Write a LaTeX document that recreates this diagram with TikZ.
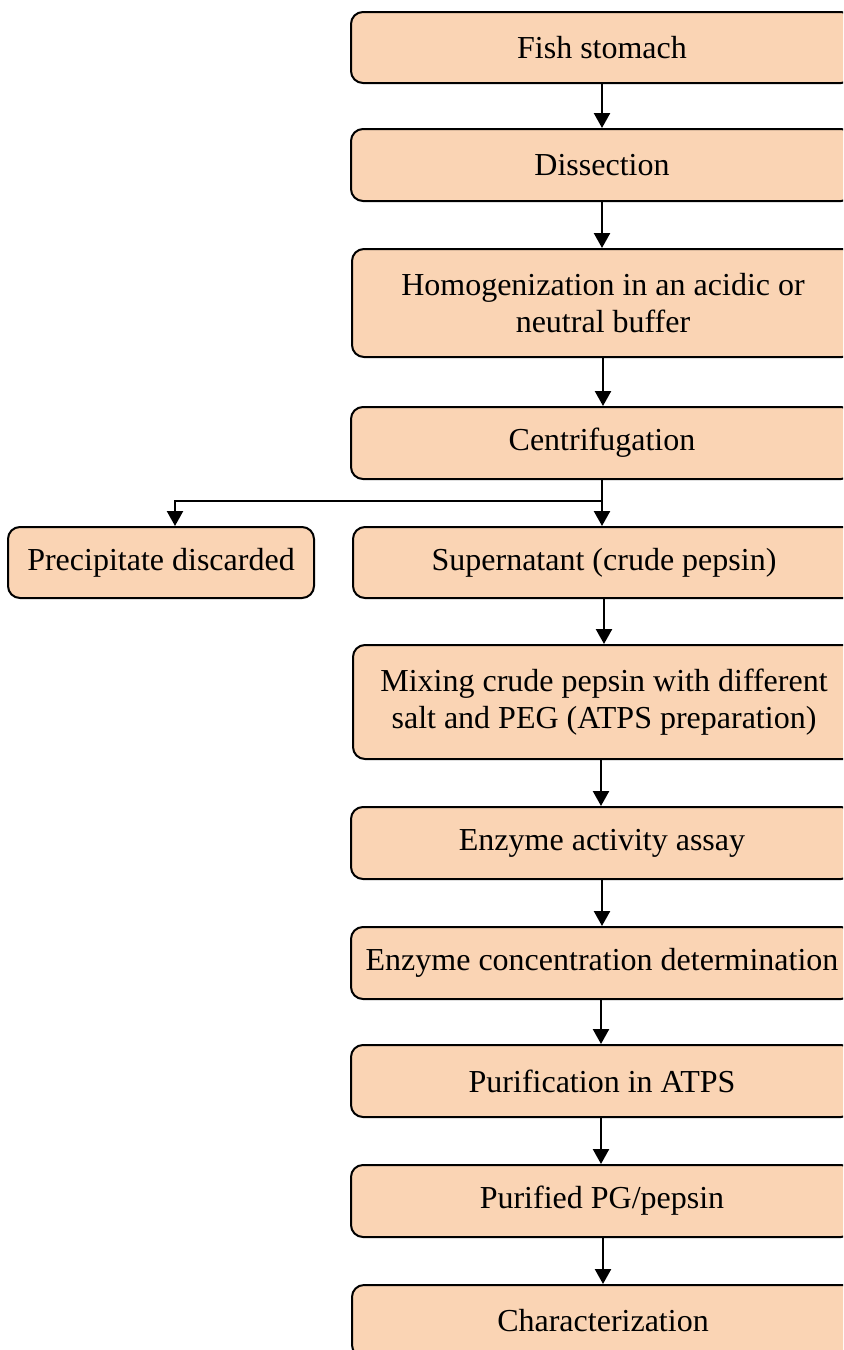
\documentclass[tikz,border=0pt]{standalone}
\usepackage{fontspec}
\setmainfont{Liberation Serif}
\usetikzlibrary{arrows.meta}
\definecolor{peach}{RGB}{250,212,180}
\begin{document}
\begin{tikzpicture}[x=0.5pt,y=-0.5pt,
  stepbox/.style={draw=black, line width=1pt, rounded corners=6pt, fill=peach,
    align=center, inner sep=0pt, minimum width=251pt,
    font=\fontsize{16}{18.5}\selectfont},
  flow/.style={line width=1.2pt, -{Triangle[width=8pt,length=7.5pt]}}]
\useasboundingbox (0,0) rectangle (843,1350);
\clip (0,0) rectangle (843,1350);
% main column
\node[stepbox, minimum height=35.5pt] (fish) at (602,47.5) {Fish stomach};
\node[stepbox, minimum height=36pt] (diss) at (602,165) {Dissection};
\node[stepbox, minimum height=54pt] (homo) at (603,303) {Homogenization in an acidic or\\neutral buffer};
\node[stepbox, minimum height=36pt] (cent) at (602,443) {Centrifugation};
\node[stepbox, minimum height=35.5pt] (sup) at (604,562.5) {Supernatant (crude pepsin)};
\node[stepbox, minimum height=35.5pt, minimum width=153pt] (prec) at (161,562.5) {Precipitate discarded};
\node[stepbox, minimum height=57pt] (mix) at (604,702) {Mixing crude pepsin with different\\salt and PEG (ATPS preparation)};
\node[stepbox, minimum height=36pt] (assay) at (602,843) {Enzyme activity assay};
\node[stepbox, minimum height=36pt] (conc) at (602,963) {Enzyme concentration determination};
\node[stepbox, minimum height=36pt] (purif) at (602,1081) {Purification in ATPS};
\node[stepbox, minimum height=36pt] (pg) at (602,1201) {Purified PG/pepsin};
\node[stepbox, minimum height=36pt] (char) at (603,1321) {Characterization};
% split point below centrifugation
\coordinate (split) at (602,501);
% connectors
\draw[flow] (fish.south -| 602,0) -- (diss.north -| 602,0);
\draw[flow] (diss.south -| 602,0) -- (homo.north -| 602,0);
\draw[flow] (homo.south -| 603,0) -- (cent.north -| 603,0);
\draw[flow] (cent.south -| 602,0) -- (sup.north -| 602,0);
\draw[flow] (split) -| (prec.north -| 175,0);
\draw[flow] (sup.south -| 604,0) -- (mix.north -| 604,0);
\draw[flow] (mix.south -| 601,0) -- (assay.north -| 601,0);
\draw[flow] (assay.south -| 602,0) -- (conc.north -| 602,0);
\draw[flow] (conc.south -| 601,0) -- (purif.north -| 601,0);
\draw[flow] (purif.south -| 601,0) -- (pg.north -| 601,0);
\draw[flow] (pg.south -| 603,0) -- (char.north -| 603,0);
\end{tikzpicture}
\end{document}
